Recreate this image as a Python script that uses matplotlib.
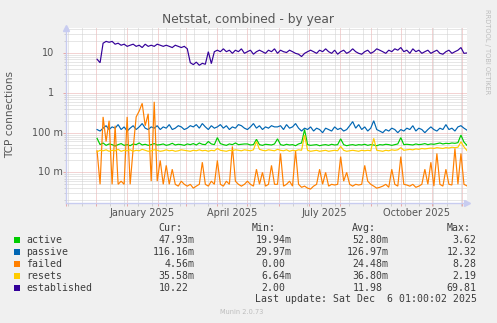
import numpy as np
import pandas as pd
import matplotlib
matplotlib.use('Agg')
import matplotlib.pyplot as plt
import matplotlib.dates as mdates
from matplotlib.transforms import blended_transform_factory
from matplotlib.ticker import LogLocator, NullFormatter, NullLocator

# ---------------- data (3-day samples starting 2024-12-02) ----------------
start_date = '2024-12-02'
step = '3D'

established = [
    7.1, 5.8, 18, 20, 19, 20, 17, 18, 16, 17,
    15, 16, 17, 15, 16, 14, 17, 15, 16, 15,
    17, 16, 15, 16, 15, 14, 16, 15, 14, 15,
    13, 5.8, 5.2, 6.0, 5.0, 5.6, 5.3, 11, 5.5, 11,
    12, 11, 13, 11, 12, 10, 12, 11, 13, 10,
    11, 12, 9.5, 11, 12, 11, 10, 12, 11, 13,
    10, 12, 11, 10.5, 12, 11, 10, 9.5, 8.3, 10,
    11, 12, 11, 10, 12, 11, 13, 11, 10, 12,
    9.5, 11, 12, 10, 11, 13, 11, 10, 9.5, 11,
    12, 10, 11, 13, 12, 11, 10, 12, 11, 13,
    12, 14, 11, 12, 10, 13, 11, 12, 10, 11,
    12, 10, 11, 12, 10, 9.5, 11, 12, 10, 11,
    12, 14, 10, 10.22]

passive = [
    0.12, 0.11, 0.13, 0.15, 0.12, 0.14, 0.13, 0.16, 0.12, 0.14,
    0.11, 0.13, 0.15, 0.12, 0.14, 0.17, 0.13, 0.12, 0.14, 0.13,
    0.15, 0.12, 0.14, 0.13, 0.16, 0.12, 0.13, 0.15, 0.14, 0.12,
    0.13, 0.15, 0.14, 0.16, 0.13, 0.17, 0.14, 0.12, 0.15, 0.13,
    0.14, 0.16, 0.13, 0.15, 0.12, 0.14, 0.13, 0.16, 0.15, 0.13,
    0.12, 0.14, 0.17, 0.13, 0.15, 0.12, 0.14, 0.13, 0.15, 0.14,
    0.14, 0.15, 0.12, 0.16, 0.13, 0.14, 0.17, 0.13, 0.11, 0.13,
    0.12, 0.14, 0.11, 0.13, 0.12, 0.10, 0.13, 0.12, 0.11, 0.14,
    0.12, 0.13, 0.11, 0.12, 0.15, 0.19, 0.13, 0.16, 0.12, 0.14,
    0.11, 0.13, 0.20, 0.12, 0.11, 0.10, 0.12, 0.11, 0.13, 0.12,
    0.10, 0.12, 0.11, 0.13, 0.12, 0.15, 0.11, 0.13, 0.12, 0.10,
    0.12, 0.14, 0.12, 0.11, 0.13, 0.12, 0.16, 0.12, 0.13, 0.11,
    0.14, 0.15, 0.13, 0.116]

active = [
    0.072, 0.050, 0.055, 0.048, 0.052, 0.050, 0.046, 0.050, 0.053, 0.048,
    0.050, 0.047, 0.052, 0.050, 0.055, 0.049, 0.051, 0.048, 0.050, 0.053,
    0.049, 0.050, 0.052, 0.048, 0.050, 0.054, 0.049, 0.051, 0.050, 0.048,
    0.052, 0.050, 0.053, 0.049, 0.055, 0.051, 0.050, 0.060, 0.052, 0.050,
    0.075, 0.053, 0.050, 0.048, 0.052, 0.050, 0.055, 0.050, 0.051, 0.052,
    0.052, 0.049, 0.050, 0.068, 0.050, 0.048, 0.051, 0.050, 0.049, 0.052,
    0.070, 0.050, 0.048, 0.051, 0.049, 0.050, 0.047, 0.052, 0.055, 0.120,
    0.050, 0.048, 0.049, 0.050, 0.047, 0.049, 0.050, 0.048, 0.051, 0.049,
    0.050, 0.070, 0.050, 0.047, 0.049, 0.050, 0.048, 0.050, 0.049, 0.051,
    0.048, 0.050, 0.049, 0.047, 0.050, 0.049, 0.051, 0.050, 0.048, 0.050,
    0.052, 0.075, 0.050, 0.051, 0.050, 0.049, 0.052, 0.050, 0.051, 0.053,
    0.050, 0.052, 0.051, 0.053, 0.055, 0.052, 0.054, 0.053, 0.055, 0.054,
    0.056, 0.087, 0.058, 0.0479]

resets = [
    0.033, 0.036, 0.035, 0.037, 0.034, 0.036, 0.035, 0.038, 0.034, 0.036,
    0.035, 0.037, 0.034, 0.036, 0.035, 0.038, 0.036, 0.034, 0.035, 0.037,
    0.036, 0.034, 0.035, 0.037, 0.035, 0.036, 0.034, 0.035, 0.037, 0.036,
    0.035, 0.034, 0.036, 0.035, 0.037, 0.035, 0.036, 0.034, 0.036, 0.035,
    0.040, 0.036, 0.035, 0.034, 0.036, 0.035, 0.037, 0.036, 0.035, 0.037,
    0.036, 0.035, 0.037, 0.060, 0.038, 0.036, 0.035, 0.037, 0.036, 0.035,
    0.038, 0.036, 0.035, 0.037, 0.034, 0.036, 0.035, 0.037, 0.036, 0.087,
    0.036, 0.034, 0.035, 0.036, 0.034, 0.035, 0.036, 0.034, 0.035, 0.036,
    0.035, 0.045, 0.036, 0.034, 0.035, 0.036, 0.035, 0.034, 0.036, 0.035,
    0.036, 0.035, 0.072, 0.036, 0.035, 0.034, 0.036, 0.035, 0.037, 0.036,
    0.037, 0.042, 0.036, 0.037, 0.038, 0.037, 0.039, 0.038, 0.040, 0.039,
    0.040, 0.041, 0.040, 0.042, 0.041, 0.040, 0.042, 0.041, 0.043, 0.042,
    0.043, 0.059, 0.044, 0.0356]

failed = [
    0.035, 0.005, 0.25, 0.06, 0.20, 0.005, 0.15, 0.005, 0.006, 0.005,
    0.25, 0.005, 0.04, 0.25, 0.35, 0.55, 0.15, 0.30, 0.006, 0.60,
    0.006, 0.020, 0.005, 0.015, 0.005, 0.012, 0.005, 0.0045, 0.006, 0.005,
    0.0045, 0.005, 0.004, 0.0045, 0.005, 0.018, 0.005, 0.0045, 0.006, 0.005,
    0.020, 0.005, 0.0045, 0.006, 0.005, 0.045, 0.006, 0.005, 0.0045, 0.005,
    0.006, 0.005, 0.0045, 0.012, 0.005, 0.010, 0.0045, 0.005, 0.015, 0.005,
    0.005, 0.030, 0.0045, 0.005, 0.006, 0.0045, 0.035, 0.005, 0.0042, 0.0045,
    0.004, 0.0038, 0.0045, 0.005, 0.012, 0.005, 0.010, 0.0045, 0.005, 0.0048,
    0.005, 0.025, 0.006, 0.010, 0.005, 0.0045, 0.005, 0.0048, 0.005, 0.015,
    0.006, 0.005, 0.0045, 0.004, 0.0042, 0.0045, 0.005, 0.0042, 0.012, 0.005,
    0.0045, 0.025, 0.005, 0.0048, 0.0045, 0.005, 0.0042, 0.0045, 0.005, 0.012,
    0.005, 0.018, 0.0045, 0.030, 0.005, 0.0045, 0.012, 0.005, 0.0048, 0.040,
    0.005, 0.030, 0.005, 0.00456]

series_names = ['active', 'passive', 'failed', 'resets', 'established']
series_values = [active, passive, failed, resets, established]
series_colors = ['#00CC00', '#0066B3', '#FF8000', '#FFCC00', '#330099']

cur_vals = ['47.93m', '116.16m', '4.56m', '35.58m', '10.22']
min_vals = ['19.94m', '29.97m', '0.00', '6.64m', '2.00']
avg_vals = ['52.80m', '126.97m', '24.48m', '36.80m', '11.98']
max_vals = ['3.62', '12.32', '8.28', '2.19', '69.81']

x_label_dates = ['2025-01-16', '2025-04-16', '2025-07-17', '2025-10-17']
x_label_texts = ['January 2025', 'April 2025', 'July 2025', 'October 2025']
y_label_vals = [10, 1, 0.1, 0.01]
y_label_texts = ['10', '1', '100 m', '10 m']

title = 'Netstat, combined - by year'
ylabel = 'TCP connections'
last_update = 'Last update: Sat Dec  6 01:00:02 2025'

# ---------------- figure ----------------
W, H = 497, 323
BG = '#F0F0F0'
fig = plt.figure(figsize=(W / 100, H / 100), dpi=100, facecolor=BG)

L, R, T, B = 66, 467, 28, 203
ax = fig.add_axes([L / W, 1 - B / H, (R - L) / W, (B - T) / H])
ax.set_facecolor('white')


def fx(x):
    return x / W


def fy(y):
    return 1 - y / H


ax.set_yscale('log')
ax.set_ylim(0.00169, 43.5)
ax.set_xlim(pd.Timestamp('2024-11-01'), pd.Timestamp('2025-12-06 01:00'))

# grid
ax.yaxis.set_major_locator(LogLocator(base=10, numticks=20))
ax.yaxis.set_minor_locator(LogLocator(base=10, subs=np.arange(2, 10), numticks=50))
ax.yaxis.set_major_formatter(NullFormatter())
ax.yaxis.set_minor_formatter(NullFormatter())
ax.xaxis.set_major_locator(mdates.MonthLocator())
ax.xaxis.set_minor_locator(mdates.DayLocator(bymonthday=None, interval=1))
minor_dates = pd.date_range('2024-11-03', '2025-12-06', freq='14D')
ax.xaxis.set_minor_locator(matplotlib.ticker.FixedLocator(mdates.date2num(minor_dates)))
ax.xaxis.set_major_formatter(NullFormatter())
ax.xaxis.set_minor_formatter(NullFormatter())

MAJ = '#E8A8A8'
MIN = '#CFCFCF'
dot = (0, (1, 1))
ax.grid(True, which='minor', color=MIN, linestyle=dot, linewidth=0.72)
ax.grid(True, which='major', color=MAJ, linestyle=dot, linewidth=0.72)
ax.set_axisbelow(True)
ax.tick_params(axis='both', which='major', direction='out', length=2.5, width=0.72, color=MAJ)
ax.tick_params(axis='both', which='minor', direction='out', length=1.8, width=0.72, color=MIN)

for s in ['top', 'right']:
    ax.spines[s].set_visible(False)
AXC = '#C8CCF0'
for s in ['left', 'bottom']:
    ax.spines[s].set_color(AXC)
    ax.spines[s].set_linewidth(1.0)

# axis arrows
ax.plot([0], [1.0], marker='^', markersize=4.5, color=AXC, transform=ax.transAxes,
        clip_on=False)
ax.plot([1.0], [0], marker='>', markersize=4.5, color=AXC, transform=ax.transAxes,
        clip_on=False)

# data
for name, vals, col in zip(series_names, series_values, series_colors):
    dates = pd.date_range(start_date, periods=len(vals), freq=step)
    ax.plot(dates, vals, color=col, linewidth=0.85, solid_joinstyle='miter')

# tick labels
TXT = '#555555'
tr_y = blended_transform_factory(fig.transFigure, ax.transData)
for v, t in zip(y_label_vals, y_label_texts):
    xr = 63 if t.endswith('m') else 54.5
    fig.text(fx(xr), v, t, transform=tr_y, ha='right', va='center',
             fontsize=7, color=TXT)

tr_x = blended_transform_factory(ax.transData, fig.transFigure)
for d, t in zip(x_label_dates, x_label_texts):
    fig.text(mdates.date2num(pd.Timestamp(d)), fy(213), t, transform=tr_x,
             ha='center', va='center', fontsize=7, color=TXT)

fig.text(0.5, fy(19), title, ha='center', va='center', fontsize=8.8, color=TXT)
fig.text(fx(10.5), fy(115), ylabel, ha='center', va='center', rotation=90,
         fontsize=7.6, color=TXT)
fig.text(fx(487.5), fy(52), 'RRDTOOL / TOBI OETIKER', ha='center', va='center',
         rotation=270, fontsize=4.8, color='#BDBDBD')

# legend
MONO = 'DejaVu Sans Mono'
LTXT = '#3C3C3C'
fs = 7.1
cw = 5.95
hy = 228
for lab, xl in zip(['Cur:', 'Min:', 'Avg:', 'Max:'], [158, 252, 351.7, 446.7]):
    fig.text(fx(xl), fy(hy), lab, ha='left', va='center', fontsize=fs,
             family=MONO, color=LTXT)

row_y = [239.7, 251.7, 263.7, 275.8, 287.7]
col_end = [188.4, 285.7, 382.3, 476.7]
for i, (name, col) in enumerate(zip(series_names, series_colors)):
    y = row_y[i]
    fig.patches.append(plt.Rectangle((fx(14), fy(y + 3)), 6 / W, 6 / H,
                                     transform=fig.transFigure, facecolor=col,
                                     edgecolor='none'))
    fig.text(fx(26.3), fy(y), name, ha='left', va='center', fontsize=fs,
             family=MONO, color=LTXT)
    for vals, ce in zip([cur_vals, min_vals, avg_vals, max_vals], col_end):
        s = vals[i]
        xr = ce + cw if s.endswith('m') else ce
        fig.text(fx(xr), fy(y), s, ha='right', va='center', fontsize=fs,
                 family=MONO, color=LTXT)

fig.text(fx(476.7), fy(298.7), last_update, ha='right', va='center', fontsize=fs,
         family=MONO, color=LTXT)
fig.text(fx(241.5), fy(312), 'Munin 2.0.73', ha='center', va='center', fontsize=4.8,
         color='#BDBDBD')

fig.savefig('out.png', dpi=100, facecolor=BG)
